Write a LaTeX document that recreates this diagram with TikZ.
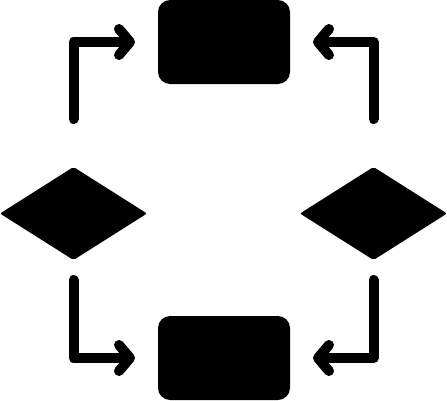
\documentclass[tikz,border=0pt]{standalone}
\usepackage{tikz}
\usetikzlibrary{positioning,shapes,arrows.meta}
\tikzstyle{block}=[rectangle,fill=black,rounded corners=12pt,minimum width=132pt,minimum height=84pt,inner sep=0pt,outer sep=0pt]
\tikzstyle{choice}=[diamond,fill=black,rounded corners=2pt,minimum width=147pt,minimum height=93pt,inner sep=0pt,outer sep=0pt]
\tikzstyle{flow}=[line width=10pt,line cap=round,line join=round,-{Straight Barb[length=11pt,width=26pt,round]}]
\def\gapdist{23pt}

\begin{document}
\begin{tikzpicture}[x=1pt,y=1pt]
		\useasboundingbox (0,0) rectangle (447,400);

		% boxes
		\node[block] (tb) at (224,358) {};
		\node[block] (bb) at (224,42) {};

		% decisions
		\node[choice] (ld) at (73.5,186.5) {};
		\node[choice] (rd) at (373.5,186.5) {};

		% Connections
		\draw[flow] ([yshift=48pt]ld.north) |- ([xshift=-\gapdist]tb.west);
		\draw[flow] ([yshift=48pt]rd.north) |- ([xshift=\gapdist]tb.east);
		\draw[flow] ([yshift=-20pt]ld.south) |- ([xshift=-\gapdist]bb.west);
		\draw[flow] ([yshift=-20pt]rd.south) |- ([xshift=\gapdist]bb.east);
	\end{tikzpicture}
\end{document}
